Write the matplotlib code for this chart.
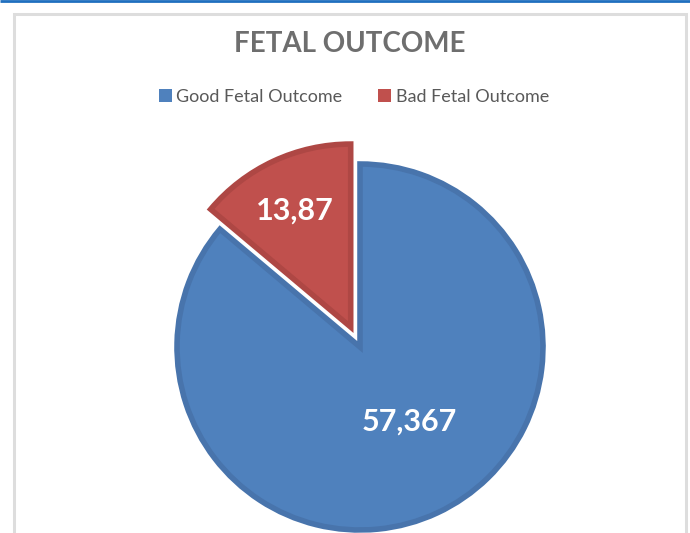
import matplotlib.pyplot as plt
from matplotlib.patches import Patch, Rectangle

# data
categories = ["Good Fetal Outcome", "Bad Fetal Outcome"]
shares = [86.13, 13.87]          # slice sizes as drawn (percent)
value_labels = ["57,367", "13,87"]
colors = ["#4F81BD", "#C0504D"]
edge_colors = ["#4874AC", "#AE4744"]
explode = [0, 22]                # offset in pixels (data units)

W, H = 690, 533
plt.rcParams['font.family'] = ['Lato', 'DejaVu Sans']

fig = plt.figure(figsize=(W / 100, H / 100), dpi=100)
ax = fig.add_axes([0, 0, 1, 1])

# frame like the office chart area
ax.add_patch(Rectangle((14, -5), 672, H - 2 - 7, facecolor='none',
                       edgecolor='#DDDDDD', linewidth=2.2))
ax.plot([0, W], [H - 1, H - 1], color='#1F6FBF', linewidth=2.0,
        solid_capstyle='butt')

wedges, _ = ax.pie(shares,
                   colors=colors,
                   explode=explode,
                   startangle=90,
                   counterclock=False,
                   center=(360, H - 347),
                   radius=183,
                   frame=True,
                   wedgeprops=dict(linewidth=4))
for w, ec in zip(wedges, edge_colors):
    w.set_edgecolor(ec)
ax.set_xlim(0, W)
ax.set_ylim(0, H)
ax.set_aspect('equal')
ax.axis('off')

# value labels
label_pos = [(409, H - 422), (295, H - 211)]
for txt, (x, y) in zip(value_labels, label_pos):
    ax.text(x, y, txt, ha='center', va='center', color='white',
            fontsize=22, fontweight='bold')

ax.text(350, H - 44, "FETAL OUTCOME", ha='center', va='center',
        color='#6E6E6E', fontsize=20, fontweight='bold')

handles = [Patch(facecolor=c, edgecolor='none') for c in colors]
ax.legend(handles, categories, loc='center', ncol=2,
          bbox_to_anchor=(354 / W, 1 - 97 / H), frameon=False,
          fontsize=13, labelcolor='#595959', handlelength=0.7,
          handleheight=0.7, handletextpad=0.25, columnspacing=2.0)

fig.savefig("out.png", dpi=100)
